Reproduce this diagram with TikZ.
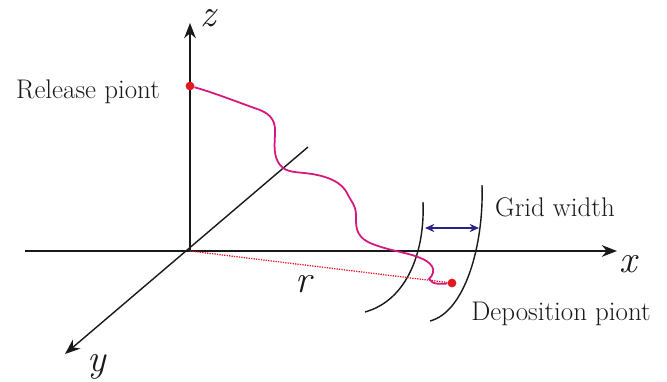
\documentclass[tikz,border=0pt]{standalone}
\usepackage{xcolor}
\usetikzlibrary{arrows.meta}
\definecolor{pathpink}{RGB}{214,22,125}
\definecolor{widthblue}{RGB}{45,35,135}
\definecolor{markred}{RGB}{225,25,35}
\begin{document}
\begin{tikzpicture}[x=0.03cm,y=-0.03cm,
    axis/.style={line width=1.2pt,black!90,-{Stealth[length=13pt,width=10pt]}},
    arcline/.style={line width=1.2pt,black!90},
    labeltext/.style={font=\fontsize{23}{27}\selectfont,text=black!90,inner sep=0pt},
    axislabel/.style={font=\fontsize{33}{36}\selectfont\itshape,text=black!90,inner sep=0pt},
    markdot/.style={circle,fill=markred,inner sep=0pt,minimum size=7.5pt}]
    \useasboundingbox (0,0) rectangle (667,381);

    % Axes
    \coordinate (origin) at (190,251);
    \coordinate (xstart) at (25,251);
    \coordinate (xend) at (617,251);
    \coordinate (yback) at (308,147);
    \coordinate (yend) at (65,354);
    \coordinate (zend) at (190,23);
    \draw[axis] (xstart) -- (xend);
    \draw[axis] (origin) -- (zend);
    \draw[axis] (yback) -- (yend);
    \node[axislabel] (xlabel) at (628,264) {x};
    \node[axislabel] (ylabel) at (97,367) {y};
    \node[axislabel] (zlabel) at (208,18) {z};

    % Grid cell
    \draw[arcline] (423,202) .. controls (425,250) and (408,300) .. (365,312);
    \draw[arcline] (482,185) .. controls (484,245) and (465,312) .. (430,321);
    \coordinate (gridleft) at (425,228);
    \coordinate (gridright) at (479,228);
    \draw[widthblue,line width=1.2pt,{Stealth[length=8pt,width=7pt]}-{Stealth[length=8pt,width=7pt]}] (gridleft) -- (gridright);

    % Particle path
    \node[markdot] (release) at (190,86) {};
    \node[markdot] (deposition) at (452,283) {};
    \draw[markred,densely dotted,line width=1.1pt] (origin) -- (deposition);
    \draw[pathpink,line width=1.5pt] (release) .. controls (215,93) and (240,103) .. (260,110)
        .. controls (272,115) and (276,122) .. (275,135)
        .. controls (274,150) and (274,160) .. (283,168)
        .. controls (290,173) and (300,172) .. (312,174)
        .. controls (330,177) and (342,183) .. (347,193)
        .. controls (350,200) and (356,205) .. (356,215)
        .. controls (356,225) and (355,235) .. (368,242)
        .. controls (385,250) and (405,252) .. (418,257)
        .. controls (432,262) and (438,270) .. (429,279)
        .. controls (432,285) and (442,284) .. (deposition);

    % Labels
    \node[labeltext] (releaselabel) at (88,92) {Release piont};
    \node[labeltext] (gridlabel) at (555,207) {Grid width};
    \node[labeltext] (depositionlabel) at (561,314) {Deposition piont};
    \node[axislabel] (rlabel) at (303,284) {r};
\end{tikzpicture}
\end{document}
